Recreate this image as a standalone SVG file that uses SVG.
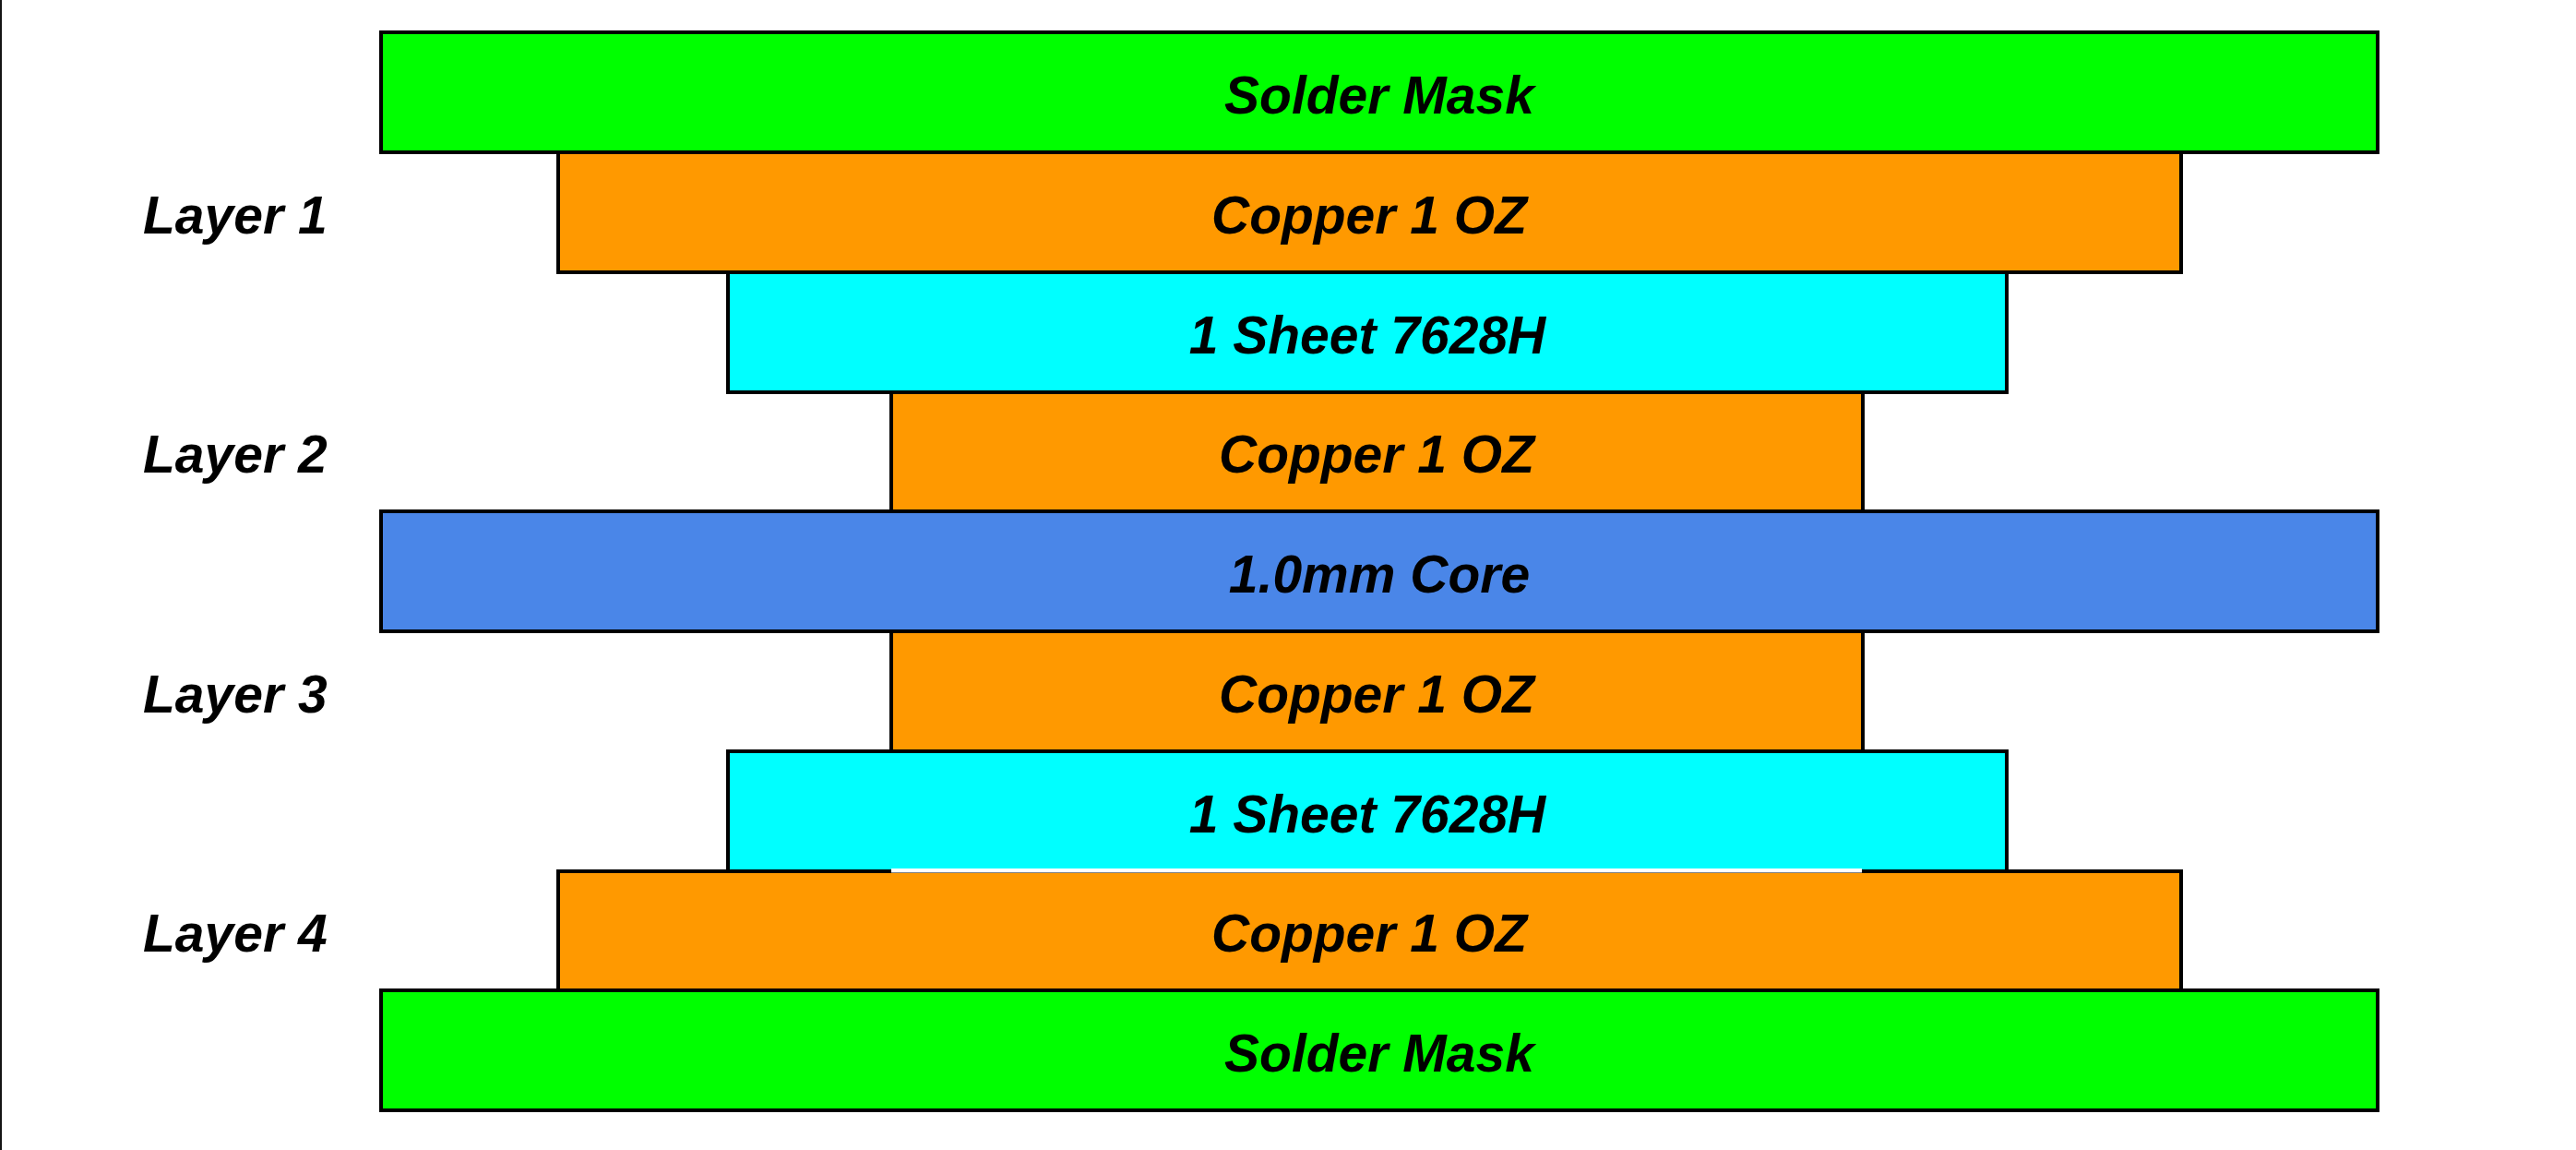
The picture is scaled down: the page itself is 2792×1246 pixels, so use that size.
<svg xmlns="http://www.w3.org/2000/svg" width="2792" height="1246" viewBox="0 0 2792 1246">
<style>
.lyr{stroke:#000;stroke-width:4}
.sm{fill:#00ff00}
.cu{fill:#ff9900}
.pp{fill:#00ffff}
.core{fill:#4a86e8}
text{font-family:"Liberation Sans",Arial,sans-serif;font-weight:bold;font-style:italic;font-size:57px;fill:#000}
.c{text-anchor:middle}
</style>
<rect x="0" y="0" width="2792" height="1246" fill="#fff"/>
<rect x="0" y="0" width="2" height="1246" fill="#151515"/>
<g id="solder-mask-top"><rect class="lyr sm" x="413" y="35" width="2164" height="130"/><text class="c" x="1495" y="123">Solder Mask</text></g>
<g id="copper-1"><rect class="lyr cu" x="605" y="165" width="1759" height="130"/><text class="c" x="1484" y="253">Copper 1 OZ</text></g>
<g id="prepreg-1"><rect class="lyr pp" x="789" y="295" width="1386" height="130"/><text class="c" x="1482" y="383">1 Sheet 7628H</text></g>
<g id="copper-2"><rect class="lyr cu" x="966" y="425" width="1053" height="129"/><text class="c" x="1492" y="512">Copper 1 OZ</text></g>
<g id="core"><rect class="lyr core" x="413" y="554" width="2164" height="130"/><text class="c" x="1495" y="642">1.0mm Core</text></g>
<g id="copper-3"><rect class="lyr cu" x="966" y="684" width="1053" height="130"/><text class="c" x="1492" y="772">Copper 1 OZ</text></g>
<g id="prepreg-2"><rect class="lyr pp" x="789" y="814" width="1386" height="130"/><text class="c" x="1482" y="902">1 Sheet 7628H</text></g>
<g id="copper-4"><rect class="lyr cu" x="605" y="944" width="1759" height="129"/><text class="c" x="1484" y="1031">Copper 1 OZ</text></g>
<rect x="966" y="941" width="1052" height="4.5" fill="#fff"/>
<g id="solder-mask-bottom"><rect class="lyr sm" x="413" y="1073" width="2164" height="130"/><text class="c" x="1495" y="1161">Solder Mask</text></g>
<g id="labels">
<text x="155" y="253">Layer 1</text>
<text x="155" y="512">Layer 2</text>
<text x="155" y="772">Layer 3</text>
<text x="155" y="1031">Layer 4</text>
</g>
<g id="connectors"></g>
</svg>
